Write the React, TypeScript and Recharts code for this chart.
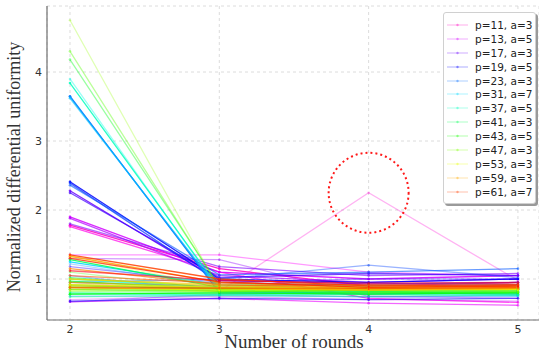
import { LineChart, Line, XAxis, YAxis, CartesianGrid, ReferenceDot } from 'recharts'

const rounds = [2, 3, 4, 5]

const labels = [
  'p=11, a=3', 'p=13, a=5', 'p=17, a=3', 'p=19, a=5', 'p=23, a=3', 'p=31, a=7', 'p=37, a=5',
  'p=41, a=3', 'p=43, a=5', 'p=47, a=3', 'p=53, a=3', 'p=59, a=3', 'p=61, a=7',
]

// each group: several runs, values at rounds 2..5
const p11 = [
  [1.78, 1.15, 0.9, 0.95],
  [0.95, 0.82, 2.25, 0.98],
  [1.76, 1.1, 0.72, 0.66],
  [1.35, 1.35, 1.1, 1.05],
  [0.67, 0.72, 0.65, 0.62],
]
const p13 = [
  [1.9, 1.1, 1.0, 1.05],
  [0.7, 0.75, 0.7, 0.68],
  [1.88, 1.05, 0.95, 1.0],
  [1.3, 1.28, 0.75, 0.72],
  [1.8, 1.18, 1.05, 1.08],
]
const p17 = [
  [2.28, 0.98, 0.93, 0.95],
  [0.67, 0.78, 0.74, 0.76],
  [2.25, 1.02, 1.08, 1.05],
  [1.18, 0.95, 1.0, 1.0],
  [0.68, 0.72, 0.7, 0.72],
]
const p19 = [
  [2.41, 1.0, 0.95, 1.0],
  [1.05, 0.82, 0.8, 0.82],
  [2.39, 0.95, 0.9, 0.92],
  [0.95, 1.0, 1.2, 1.02],
  [2.36, 1.06, 1.1, 1.15],
]
const p23 = [
  [3.65, 0.8, 0.78, 0.8],
  [1.22, 0.9, 0.92, 0.95],
  [3.64, 0.82, 0.8, 0.78],
  [0.75, 0.76, 0.74, 0.75],
  [3.62, 0.84, 0.82, 0.84],
]
const p31 = [
  [1.25, 0.92, 0.9, 0.9],
  [0.85, 0.8, 0.82, 0.8],
  [1.0, 0.86, 0.84, 0.86],
  [3.9, 0.83, 0.8, 0.82],
  [0.78, 0.77, 0.78, 0.76],
]
const p37 = [
  [3.84, 0.86, 0.82, 0.8],
  [0.92, 0.84, 0.86, 0.84],
  [0.8, 0.78, 0.8, 0.78],
  [0.74, 0.76, 0.75, 0.77],
  [1.02, 0.88, 0.84, 0.86],
]
const p41 = [
  [1.28, 0.88, 0.85, 0.86],
  [0.82, 0.8, 0.82, 0.8],
  [0.97, 0.85, 0.88, 0.85],
  [4.18, 0.9, 0.85, 0.83],
  [0.88, 0.83, 0.8, 0.82],
]
const p43 = [
  [0.78, 0.8, 0.78, 0.8],
  [1.1, 0.85, 0.82, 0.85],
  [0.85, 0.82, 0.84, 0.86],
  [4.3, 0.88, 0.82, 0.8],
  [0.92, 0.86, 0.84, 0.85],
]
const p47 = [
  [0.9, 0.86, 0.85, 0.87],
  [4.75, 0.85, 0.8, 0.85],
  [0.95, 0.88, 0.86, 0.84],
  [0.83, 0.82, 0.84, 0.82],
  [1.0, 0.9, 0.88, 0.88],
]
const p53 = [
  [0.88, 0.84, 0.86, 0.85],
  [1.31, 0.9, 0.85, 0.88],
  [0.92, 0.88, 0.84, 0.86],
  [0.85, 0.86, 0.88, 0.9],
  [1.0, 0.92, 0.9, 0.88],
]
const p59 = [
  [1.33, 0.95, 0.88, 0.9],
  [0.9, 0.88, 0.9, 0.88],
  [1.15, 0.92, 0.86, 0.87],
  [0.87, 0.86, 0.84, 0.86],
  [1.05, 0.94, 0.92, 0.9],
]
const p61 = [
  [1.35, 1.0, 0.9, 0.92],
  [0.95, 0.9, 0.92, 0.94],
  [1.3, 0.96, 0.88, 0.9],
  [0.88, 0.87, 0.86, 0.88],
  [1.12, 0.98, 0.94, 0.95],
]

const groups = [p11, p13, p17, p19, p23, p31, p37, p41, p43, p47, p53, p59, p61]

// matplotlib gist_rainbow
const stops: [number, number[]][] = [
  [0.0, [1, 0, 0.16]],
  [0.03, [1, 0, 0]],
  [0.215, [1, 1, 0]],
  [0.4, [0, 1, 0]],
  [0.586, [0, 1, 1]],
  [0.77, [0, 0, 1]],
  [0.954, [1, 0, 1]],
  [1.0, [1, 0, 0.75]],
]
function rainbow(t: number) {
  let i = 0
  while (i < stops.length - 2 && t > stops[i + 1][0]) i++
  const [t0, c0] = stops[i]
  const [t1, c1] = stops[i + 1]
  const f = Math.min(1, Math.max(0, (t - t0) / (t1 - t0)))
  const c = c0.map((v, k) => Math.round((v + (c1[k] - v) * f) * 255))
  return `rgb(${c[0]},${c[1]},${c[2]})`
}

const perGroup = 5
const total = groups.length * perGroup
const alphas = [0.85, 0.3, 0.7, 0.4, 0.6]

const series = groups.flatMap((g, gi) =>
  g.map((vals, j) => ({
    key: `g${gi}_${j}`,
    vals,
    color: rainbow(1 - (gi * perGroup + j) / total),
    alpha: alphas[j],
  })),
)

const data = rounds.map((r, i) => {
  const row: Record<string, number> = { round: r }
  series.forEach((s) => (row[s.key] = s.vals[i]))
  return row
})

const tickStyle = { fontSize: 11, fill: '#333', fontFamily: 'DejaVu Sans' }
const serif = 'Liberation Serif'

function LegendBox() {
  return (
    <div
      style={{
        position: 'absolute',
        left: 443,
        top: 12,
        background: '#fff',
        border: '1px solid #d0d0d0',
        borderRadius: 3,
        boxShadow: '2px 2px 0 #9a9a9a',
        padding: '5px 3px 4px 2px',
        fontFamily: 'DejaVu Sans',
        fontSize: 10.5,
        color: '#222',
        whiteSpace: 'nowrap',
      }}
    >
      {labels.map((l, gi) => {
        const c = rainbow(1 - (gi * perGroup) / total)
        return (
          <div key={l} style={{ display: 'flex', alignItems: 'center', height: 13.9 }}>
            <svg width={23} height={8} style={{ marginRight: 6 }}>
              <line x1={1} y1={4} x2={22} y2={4} stroke={c} strokeOpacity={0.25} strokeWidth={1.3} />
              <circle cx={11.5} cy={4} r={1.2} fill={c} fillOpacity={0.4} />
            </svg>
            <span>{l}</span>
          </div>
        )
      })}
    </div>
  )
}

export default function App() {
  return (
    <div style={{ position: 'absolute', left: 0, top: 0, width: 539, height: 351, overflow: 'hidden' }}>
      <LineChart width={539} height={351} data={data} margin={{ top: 6, right: 0, left: 0, bottom: 0 }}>
        <CartesianGrid strokeDasharray="3 3" stroke="#dcdcdc" />
        <XAxis
          dataKey="round"
          type="number"
          domain={[1.846, 5.141]}
          ticks={rounds}
          height={31}
          tick={tickStyle}
          tickLine={false}
          tickSize={3}
          tickMargin={2}
          axisLine={{ stroke: '#707070', strokeWidth: 1.2 }}
          label={{
            content: () => (
              <text x={294} y={348} textAnchor="middle" fontFamily={serif} fontSize={19} fill="#333">
                Number of rounds
              </text>
            ),
          }}
        />
        <XAxis
          xAxisId="top"
          dataKey="round"
          type="number"
          orientation="top"
          domain={[1.846, 5.141]}
          height={0}
          tick={false}
          tickLine={false}
          axisLine={{ stroke: '#707070', strokeWidth: 1.2 }}
        />
        <YAxis
          type="number"
          domain={[0.406, 4.957]}
          ticks={[1, 2, 3, 4]}
          width={47}
          tick={tickStyle}
          tickLine={false}
          tickSize={3}
          tickMargin={2}
          axisLine={{ stroke: '#707070', strokeWidth: 1.2 }}
          label={{
            content: () => (
              <text
                x={16}
                y={167}
                transform="rotate(-90 16 167)"
                textAnchor="middle"
                dominantBaseline="middle"
                fontFamily={serif}
                fontSize={18}
                fill="#333"
              >
                Normalized differential uniformity
              </text>
            ),
          }}
        />
        {series.map((s) => (
          <Line
            key={s.key}
            dataKey={s.key}
            stroke={s.color}
            strokeOpacity={s.alpha}
            strokeWidth={1.3}
            dot={{ r: 1.3, fill: s.color, fillOpacity: s.alpha, stroke: 'none' }}
            activeDot={false}
            isAnimationActive={false}
            legendType="none"
          />
        ))}
        <ReferenceDot
          x={4}
          y={2.25}
          r={40}
          fill="none"
          stroke="#ff1a1a"
          strokeWidth={2}
          strokeDasharray="2 3"
          ifOverflow="visible"
        />
      </LineChart>
      <LegendBox />
    </div>
  )
}
